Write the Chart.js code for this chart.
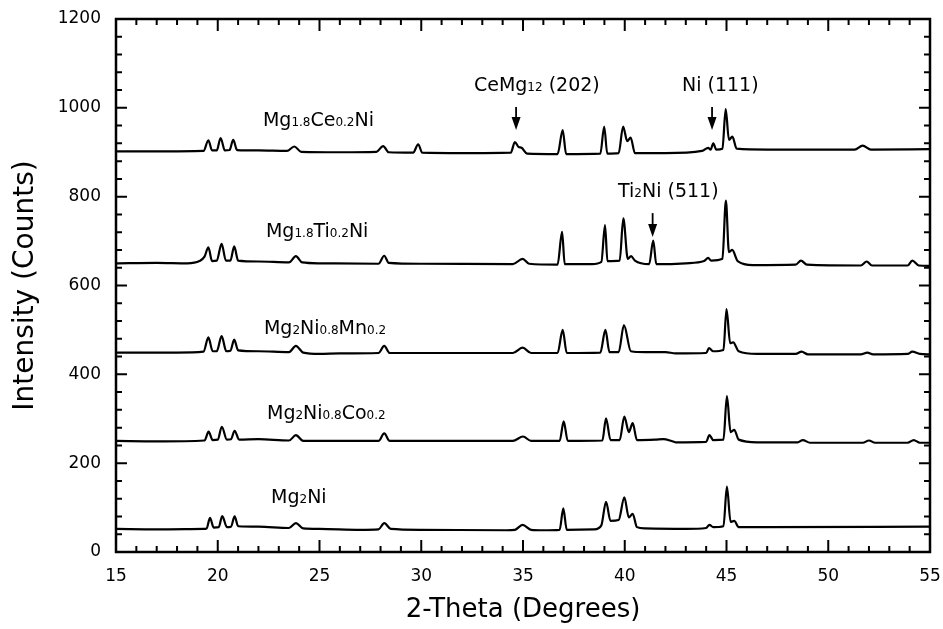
<!DOCTYPE html>
<html>
<head>
<meta charset="utf-8">
<script src="https://cdn.jsdelivr.net/npm/chart.js@4.4.0/dist/chart.umd.min.js"></script>
<style>
  html, body { margin: 0; padding: 0; background: #fff; }
  #wrap { width: 943px; height: 629px; }
</style>
</head>
<body>
<div id="wrap"><canvas id="xrdChart" width="943" height="629"></canvas></div>
<script>
// axis ranges / tick labels
var thetaTicks = [15, 20, 25, 30, 35, 40, 45, 50, 55];
var countTicks = [0, 200, 400, 600, 800, 1000, 1200];

// XRD patterns, [2-theta, counts] (offset stacked)
var mg2Ni = [
  [15, 52], [17, 51], [19.3, 52], [19.45, 53], [19.62, 77], [19.8, 55], [20.05, 56], [20.22, 81],
  [20.45, 56], [20.65, 57], [20.83, 80], [21.0, 58], [22, 57], [23.5, 54], [23.84, 65], [24.2, 53],
  [25, 52], [27, 50], [27.9, 51], [28.18, 65], [28.5, 52], [30, 50], [34.2, 49], [34.6, 50],
  [34.98, 61], [35.4, 50], [36, 49], [36.8, 50], [36.98, 98], [37.15, 50], [38.5, 51], [38.85, 60],
  [39.08, 113], [39.3, 70], [39.7, 72], [39.98, 123], [40.2, 78], [40.39, 86], [40.6, 56], [41, 53],
  [43, 52], [44, 54], [44.16, 61], [44.35, 56], [44.85, 58], [45.02, 147], [45.2, 68], [45.38, 70],
  [45.6, 56], [47, 56], [55, 57]
];
var mg2NiCo = [
  [15, 250], [17, 249], [19.35, 251], [19.55, 271], [19.75, 252], [20.0, 253], [20.2, 282], [20.45, 253],
  [20.65, 254], [20.83, 273], [21.05, 253], [22, 254], [23.5, 251], [23.84, 263], [24.2, 250], [26, 250],
  [27.9, 250], [28.18, 267], [28.45, 250], [30, 250], [34.5, 250], [35, 260], [35.4, 250], [36.8, 250],
  [37, 294], [37.2, 250], [38.9, 251], [39.08, 301], [39.3, 252], [39.75, 252], [39.98, 305], [40.2, 270],
  [40.39, 290], [40.6, 252], [41.5, 253], [41.9, 254], [42.3, 250], [42.5, 247], [44, 248], [44.16, 263],
  [44.35, 252], [44.85, 253], [45.02, 351], [45.2, 270], [45.38, 275], [45.6, 253], [46.5, 247], [48.5, 247],
  [48.75, 252], [49.1, 246], [51.7, 246], [52, 251], [52.3, 246], [53.9, 246], [54.2, 252], [54.5, 246], [55, 246]
];
var mg2NiMn = [
  [15, 449], [18, 449], [19.3, 451], [19.54, 483], [19.75, 452], [19.95, 452], [20.19, 486], [20.42, 452],
  [20.62, 453], [20.81, 478], [21.0, 454], [22, 452], [23.5, 450], [23.84, 464], [24.2, 449], [25, 446],
  [26, 447], [27.9, 448], [28.18, 464], [28.45, 448], [30, 448], [34.5, 448], [34.98, 460], [35.4, 448],
  [36.7, 448], [36.95, 500], [37.15, 448], [38.8, 449], [39.05, 500], [39.25, 450], [39.7, 450], [39.96, 511],
  [40.3, 452], [41, 450], [42, 450], [42.5, 447], [44, 448], [44.14, 459], [44.35, 452], [44.85, 455],
  [45.0, 547], [45.18, 470], [45.33, 472], [45.6, 452], [46.5, 446], [48.4, 446], [48.69, 451], [49, 445],
  [51.6, 445], [51.92, 449], [52.2, 445], [53.9, 446], [54.13, 451], [54.5, 446], [55, 445]
];
var mg18Ti = [
  [15, 650], [17, 651], [18.5, 650], [19.1, 655], [19.35, 665], [19.54, 686], [19.72, 655], [19.95, 656],
  [20.19, 694], [20.4, 656], [20.62, 656], [20.81, 688], [21.0, 656], [22, 654], [23.5, 652], [23.84, 666],
  [24.15, 652], [25, 650], [27.9, 649], [28.18, 667], [28.4, 651], [30, 649], [34.5, 648], [34.98, 660],
  [35.3, 649], [36.7, 647], [36.92, 721], [37.05, 648], [38.4, 648], [38.85, 653], [39.03, 736], [39.15, 655],
  [39.75, 656], [39.93, 751], [40.15, 660], [40.31, 666], [40.5, 656], [41.2, 648], [41.4, 701], [41.55, 648],
  [43, 650], [43.9, 655], [44.1, 662], [44.25, 656], [44.8, 660], [44.97, 791], [45.12, 675], [45.28, 680],
  [45.55, 655], [46.3, 646], [48.4, 647], [48.66, 656], [48.95, 647], [51.6, 645], [51.89, 654], [52.15, 645],
  [53.9, 645], [54.13, 656], [54.45, 645], [55, 644]
];
var mg18Ce = [
  [15, 902], [17, 902], [19.3, 903], [19.54, 927], [19.72, 904], [19.95, 904], [20.14, 932], [20.35, 904],
  [20.58, 905], [20.76, 928], [20.95, 905], [22, 904], [23.4, 903], [23.76, 913], [24.1, 901], [26, 900],
  [27.8, 901], [28.13, 914], [28.4, 900], [29.6, 899], [29.85, 918], [30.05, 899], [32, 898], [34.4, 899],
  [34.6, 923], [34.78, 912], [34.93, 910], [35.2, 897], [36.7, 896], [36.95, 950], [37.12, 896], [38.8, 897],
  [38.99, 958], [39.14, 897], [39.7, 898], [39.92, 958], [40.12, 925], [40.29, 933], [40.5, 898], [42, 898],
  [43.8, 903], [44.1, 910], [44.22, 906], [44.35, 920], [44.5, 906], [44.8, 908], [44.96, 997], [45.12, 928],
  [45.29, 935], [45.5, 908], [47, 906], [51.3, 906], [51.69, 915], [52.1, 906], [55, 907]
];
var patterns = [mg2Ni, mg2NiCo, mg2NiMn, mg18Ti, mg18Ce];

// sample labels: text parts, [text, isSubscript]
var sampleLabels = [
  [['Mg', 0], ['2', 1], ['Ni', 0]],
  [['Mg', 0], ['2', 1], ['Ni', 0], ['0.8', 1], ['Co', 0], ['0.2', 1]],
  [['Mg', 0], ['2', 1], ['Ni', 0], ['0.8', 1], ['Mn', 0], ['0.2', 1]],
  [['Mg', 0], ['1.8', 1], ['Ti', 0], ['0.2', 1], ['Ni', 0]],
  [['Mg', 0], ['1.8', 1], ['Ce', 0], ['0.2', 1], ['Ni', 0]]
];
var sampleLabelAt = [[22.62, 110], [22.42, 299], [22.27, 491], [22.37, 710], [22.22, 960]];

// phase markers
var phaseLabels = [
  [['CeMg', 0], ['12', 1], [' (202)', 0]],
  [['Ni (111)', 0]],
  [['Ti', 0], ['2', 1], ['Ni (511)', 0]]
];
var phaseLabelAt = [[32.59, 1039], [42.81, 1039], [39.67, 800]];
var phaseArrows = [[34.66, 1002, 950], [44.29, 1002, 950], [41.37, 763, 709]];

function drawParts(ctx, parts, x, y) {
  ctx.textBaseline = 'alphabetic';
  ctx.textAlign = 'left';
  parts.forEach(function(p) {
    ctx.font = p[1] ? '12px "DejaVu Sans"' : '19px "DejaVu Sans"';
    ctx.fillText(p[0], x, y);
    x += ctx.measureText(p[0]).width;
  });
}

var framePlugin = {
  id: 'frame',
  afterDatasetsDraw: function(chart) {
    var ctx = chart.ctx, a = chart.chartArea;
    var xs = chart.scales.x, ys = chart.scales.y;
    ctx.save();
    ctx.strokeStyle = '#000';
    ctx.fillStyle = '#000';
    ctx.lineWidth = 2.5;
    ctx.strokeRect(a.left, a.top, a.right - a.left, a.bottom - a.top);

    // inward ticks on all four sides
    ctx.lineWidth = 2;
    ctx.beginPath();
    for (var t = xs.min; t <= xs.max; t += 1) {
      var px = xs.getPixelForValue(t);
      var len = t % 5 === 0 ? 12 : 6;
      ctx.moveTo(px, a.bottom); ctx.lineTo(px, a.bottom - len);
      ctx.moveTo(px, a.top); ctx.lineTo(px, a.top + len);
    }
    for (var c = ys.min; c <= ys.max; c += 40) {
      var py = ys.getPixelForValue(c);
      var l2 = c % 200 === 0 ? 11 : 6;
      ctx.moveTo(a.left, py); ctx.lineTo(a.left + l2, py);
      ctx.moveTo(a.right, py); ctx.lineTo(a.right - l2, py);
    }
    ctx.stroke();

    sampleLabels.forEach(function(parts, i) {
      drawParts(ctx, parts, xs.getPixelForValue(sampleLabelAt[i][0]), ys.getPixelForValue(sampleLabelAt[i][1]));
    });
    phaseLabels.forEach(function(parts, i) {
      drawParts(ctx, parts, xs.getPixelForValue(phaseLabelAt[i][0]), ys.getPixelForValue(phaseLabelAt[i][1]));
    });

    // arrows pointing at phase peaks
    phaseArrows.forEach(function(ar) {
      var x = xs.getPixelForValue(ar[0]);
      var y0 = ys.getPixelForValue(ar[1]), y1 = ys.getPixelForValue(ar[2]);
      ctx.lineWidth = 1.8;
      ctx.beginPath();
      ctx.moveTo(x, y0); ctx.lineTo(x, y1 - 10);
      ctx.stroke();
      ctx.beginPath();
      ctx.moveTo(x - 4.5, y1 - 13); ctx.lineTo(x + 4.5, y1 - 13); ctx.lineTo(x, y1);
      ctx.closePath();
      ctx.fill();
    });
    ctx.restore();
  }
};

var ctx = document.getElementById('xrdChart').getContext('2d');
new Chart(ctx, {
  type: 'line',
  data: {
    datasets: patterns.map(function(p) {
      return {
        data: p.map(function(d) { return { x: d[0], y: d[1] }; }),
        borderColor: '#000',
        borderWidth: 2.2,
        pointRadius: 0,
        cubicInterpolationMode: 'monotone',
        fill: false
      };
    })
  },
  options: {
    responsive: false,
    animation: false,
    layout: { padding: { top: 19, right: 13, left: 0, bottom: 0 } },
    plugins: { legend: { display: false }, tooltip: { enabled: false } },
    scales: {
      x: {
        type: 'linear',
        min: thetaTicks[0],
        max: thetaTicks[thetaTicks.length - 1],
        afterBuildTicks: function(s) { s.ticks = thetaTicks.map(function(v) { return { value: v }; }); },
        afterFit: function(s) { s.height = 77; s.paddingLeft = 0; s.paddingRight = 0; },
        grid: { display: false, drawTicks: false },
        border: { display: false },
        ticks: {
          color: '#000', padding: 14, font: { family: 'DejaVu Sans', size: 17 },
          callback: function(v) { return String(v); }
        },
        title: {
          display: true, text: '2-Theta (Degrees)', color: '#000',
          font: { family: 'DejaVu Sans', size: 26 }, padding: { top: 0, bottom: 3 }
        }
      },
      y: {
        min: countTicks[0],
        max: countTicks[countTicks.length - 1],
        afterBuildTicks: function(s) { s.ticks = countTicks.map(function(v) { return { value: v }; }); },
        afterFit: function(s) { s.width = 116; s.paddingTop = 0; s.paddingBottom = 0; },
        grid: { display: false, drawTicks: false },
        border: { display: false },
        ticks: {
          color: '#000', padding: 15, font: { family: 'DejaVu Sans', size: 17 },
          callback: function(v) { return String(v); }
        },
        title: {
          display: true, text: 'Intensity (Counts)', color: '#000',
          font: { family: 'DejaVu Sans', size: 28 }, padding: { top: 9, bottom: 0 }
        }
      }
    }
  },
  plugins: [framePlugin]
});
</script>
</body>
</html>
